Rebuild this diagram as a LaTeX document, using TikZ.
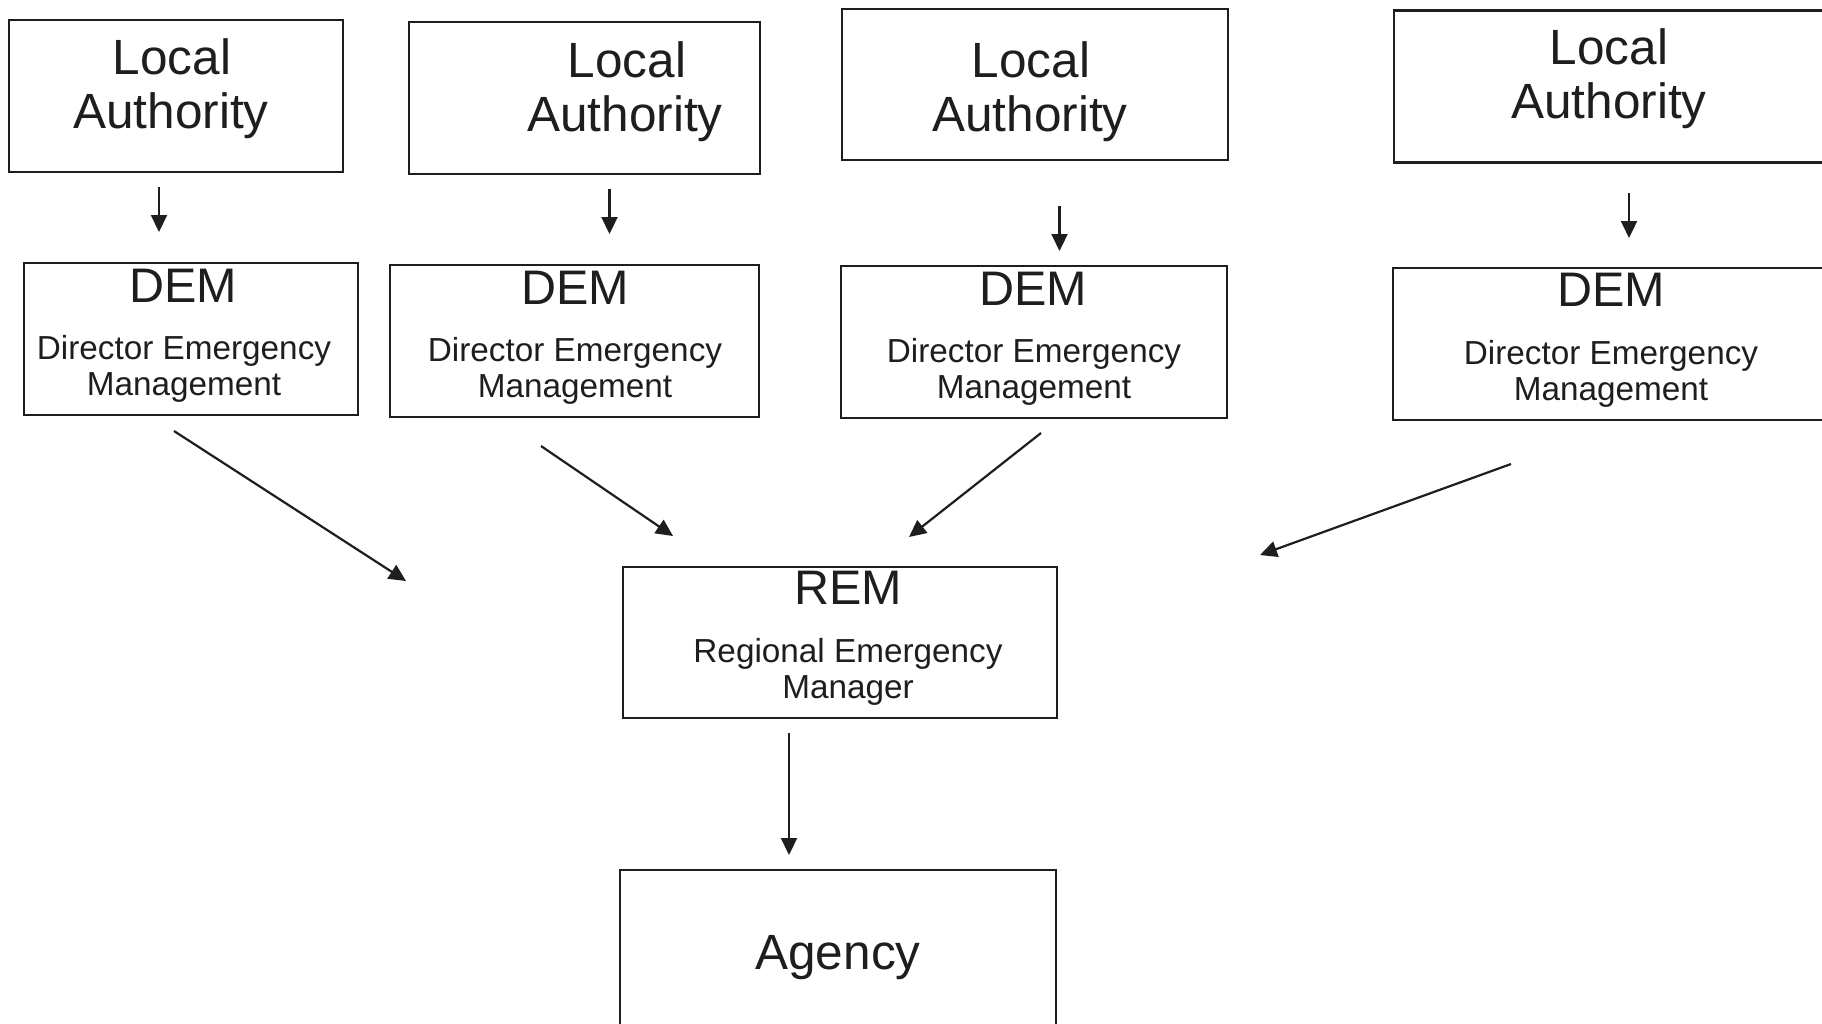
\documentclass[tikz,border=0pt]{standalone}
\usepackage{fontspec}
\setmainfont{Liberation Sans}
\usetikzlibrary{arrows.meta}
\definecolor{ink}{HTML}{1E1E1E}
\tikzset{
  box/.style={draw=ink, line width=2.6pt, rectangle, inner sep=0pt},
  big/.style={anchor=base, inner sep=0pt, text=ink, font=\fontsize{49.5}{55}\selectfont},
  dembig/.style={anchor=base, inner sep=0pt, text=ink, font=\fontsize{48.5}{55}\selectfont},
  small/.style={anchor=base, inner sep=0pt, text=ink, font=\fontsize{33.3}{37}\selectfont},
  arr/.style={draw=ink, line width=2.2pt, -{Triangle[length=17pt,width=16pt]}}
}
\begin{document}
\begin{tikzpicture}[x=1pt,y=-1pt]
\useasboundingbox (0,0) rectangle (1822,1023);
\clip (0,0) rectangle (1822,1023);
\fill[white] (0,0) rectangle (1822,1023);
% Local Authority boxes
\node[box, minimum width=334pt, minimum height=152pt] (la1) at (176,96) {};
\node[box, minimum width=351pt, minimum height=152pt] (la2) at (584.5,98) {};
\node[box, minimum width=386pt, minimum height=151pt] (la3) at (1035,84.5) {};
\node[box, minimum width=446pt, minimum height=152pt] (la4) at (1617,86.5) {};
\node[big] (la1a) at (172,74) {Local};
\node[big] (la1b) at (171,128.5) {Authority};
\node[big] (la2a) at (627,77) {Local};
\node[big] (la2b) at (625,131.5) {Authority};
\node[big] (la3a) at (1031,77) {Local};
\node[big] (la3b) at (1030,131.5) {Authority};
\node[big] (la4a) at (1609,64) {Local};
\node[big] (la4b) at (1609,118.5) {Authority};
% DEM boxes
\node[box, minimum width=334pt, minimum height=152pt] (dem1) at (191,339) {};
\node[box, minimum width=369pt, minimum height=152pt] (dem2) at (574.5,341) {};
\node[box, minimum width=386pt, minimum height=152pt] (dem3) at (1034,342) {};
\node[box, minimum width=447pt, minimum height=152pt] (dem4) at (1616.5,344) {};
\node[dembig] (d1a) at (183,302) {DEM};
\node[small] (d1b) at (184,359) {Director Emergency};
\node[small] (d1c) at (184,395) {Management};
\node[dembig] (d2a) at (575,304) {DEM};
\node[small] (d2b) at (575,361) {Director Emergency};
\node[small] (d2c) at (575,397) {Management};
\node[dembig] (d3a) at (1033,305) {DEM};
\node[small] (d3b) at (1034,362) {Director Emergency};
\node[small] (d3c) at (1034,398) {Management};
\node[dembig] (d4a) at (1611,306) {DEM};
\node[small] (d4b) at (1611,364) {Director Emergency};
\node[small] (d4c) at (1611,400) {Management};
% REM and Agency
\node[box, minimum width=434pt, minimum height=151pt] (rem) at (840,642.5) {};
\node[dembig] (rema) at (848,604.5) {REM};
\node[small] (remb) at (848,662) {Regional Emergency};
\node[small] (remc) at (848,698) {Manager};
\node[box, minimum width=436pt, minimum height=170pt] (agency) at (838,955) {};
\node[big] (aga) at (838,969) {Agency};
% connector end points
\coordinate (s1) at (159,187); \coordinate (t1) at (159,232);
\coordinate (s2) at (609.5,189); \coordinate (t2) at (609.5,234);
\coordinate (s3) at (1059.5,206); \coordinate (t3) at (1059.5,251);
\coordinate (s4) at (1629,193); \coordinate (t4) at (1629,238);
\coordinate (u1) at (174,431); \coordinate (v1) at (406,581);
\coordinate (u2) at (541,446); \coordinate (v2) at (673,536);
\coordinate (u3) at (1041,433); \coordinate (v3) at (909,537);
\coordinate (u4) at (1511,464); \coordinate (v4) at (1260,555);
\coordinate (w1) at (789,733); \coordinate (w2) at (789,855);
\draw[arr] (s1) -- (t1);
\draw[arr] (s2) -- (t2);
\draw[arr] (s3) -- (t3);
\draw[arr] (s4) -- (t4);
\draw[arr] (u1) -- (v1);
\draw[arr] (u2) -- (v2);
\draw[arr] (u3) -- (v3);
\draw[arr] (u4) -- (v4);
\draw[arr] (w1) -- (w2);
\end{tikzpicture}
\end{document}
